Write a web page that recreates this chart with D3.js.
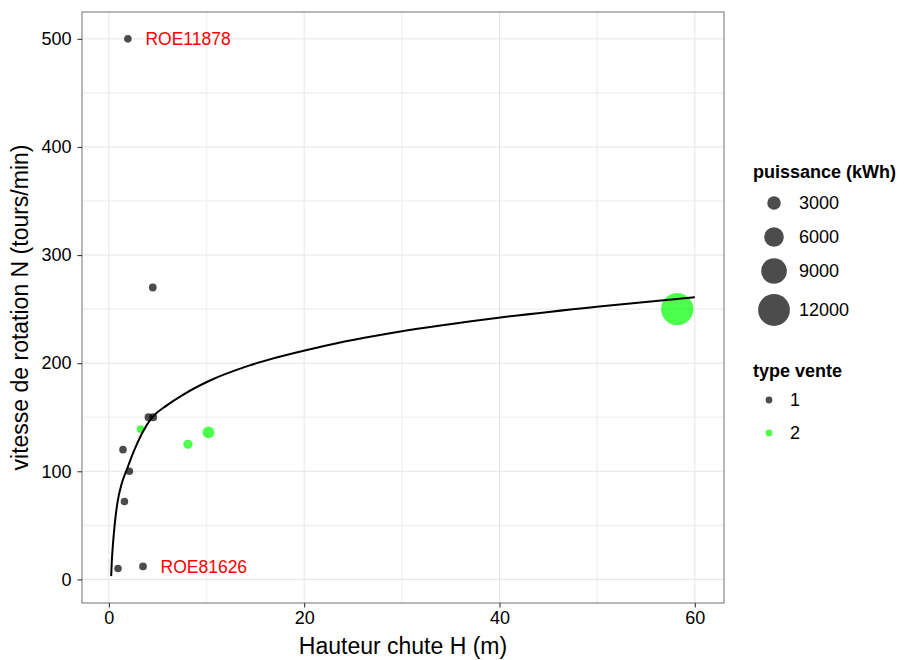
<!DOCTYPE html>
<html>
<head>
<meta charset="utf-8">
<script src="https://cdn.jsdelivr.net/npm/d3@7"></script>
<style>
  html, body { margin: 0; padding: 0; background: #fff; }
  svg { display: block; font-family: "Liberation Sans", Arial, Helvetica, sans-serif; }
</style>
</head>
<body>
<svg id="chart" width="906" height="660"></svg>
<script>
// ---- data ----
const hauteur   = [0.94, 3.5, 1.6, 2.1, 1.45, 4.06, 4.54, 1.95, 4.5, 3.25, 8.1, 10.2, 58.2];
const vitesse   = [10, 12, 72, 100, 120, 150, 150, 500, 270, 139, 125, 136, 250];
const typeVente = ["1","1","1","1","1","1","1","1","1","2","2","2","2"];
const puissance = [80, 150, 60, 120, 100, 200, 250, 90, 180, 250, 900, 2200, 12300];
const etiquettes = ["", "ROE81626", "", "", "", "", "", "ROE11878", "", "", "", "", ""];

// fitted curve
const courbeH = [0.24, 0.3, 0.4, 0.5, 0.65, 0.9, 1.3, 1.86, 2.53, 3.39, 4.45, 5.94, 7.63, 10.36, 14.44, 21.6, 29.7, 39.9, 50.2, 60];
const courbeN = [3, 16, 30, 41, 55, 72, 88, 102, 118, 135, 150, 161, 171, 184, 198, 215, 229, 242, 252.5, 261];

const xTicks = [0, 20, 40, 60];
const xMinor = [10, 30, 50];
const yTicks = [0, 100, 200, 300, 400, 500];
const yMinor = [50, 150, 250, 350, 450];

const legendPuissance = [3000, 6000, 9000, 12000];
const legendType = ["1", "2"];

// ---- layout ----
const svg = d3.select("#chart");
const P = {left: 82, right: 724, top: 12, bottom: 603};
const FS_TICK = 18, FS_TITLE = 23, FS_LEG = 18, FS_LAB = 17.5;

const allH = hauteur.concat(courbeH), allN = vitesse.concat(courbeN);
function expand(ext) { const d = (ext[1] - ext[0]) * 0.05; return [ext[0] - d, ext[1] + d]; }
const x = d3.scaleLinear().domain(expand(d3.extent(allH))).range([P.left, P.right]);
const y = d3.scaleLinear().domain(expand(d3.extent(allN))).range([P.bottom, P.top]);
const r = d3.scaleLinear().domain([0, 12000]).range([3.7, 15.9]);
const colour = d3.scaleOrdinal().domain(["1", "2"]).range(["#000000", "#00ff00"]);
const alpha = 0.7;

// panel
svg.append("rect").attr("x", P.left).attr("y", P.top)
  .attr("width", P.right - P.left).attr("height", P.bottom - P.top).attr("fill", "#fff");

const grid = svg.append("g");
grid.selectAll(".xmin").data(xMinor).join("line")
  .attr("x1", d => x(d)).attr("x2", d => x(d)).attr("y1", P.top).attr("y2", P.bottom)
  .attr("stroke", "#f2f2f2").attr("stroke-width", 1.6);
grid.selectAll(".ymin").data(yMinor).join("line")
  .attr("y1", d => y(d)).attr("y2", d => y(d)).attr("x1", P.left).attr("x2", P.right)
  .attr("stroke", "#f2f2f2").attr("stroke-width", 1.6);
grid.selectAll(".xmaj").data(xTicks).join("line")
  .attr("x1", d => x(d)).attr("x2", d => x(d)).attr("y1", P.top).attr("y2", P.bottom)
  .attr("stroke", "#e5e5e5").attr("stroke-width", 1);
grid.selectAll(".ymaj").data(yTicks).join("line")
  .attr("y1", d => y(d)).attr("y2", d => y(d)).attr("x1", P.left).attr("x2", P.right)
  .attr("stroke", "#e5e5e5").attr("stroke-width", 1);

// points
const pts = hauteur.map((h, i) => ({h, n: vitesse[i], t: typeVente[i], p: puissance[i], lab: etiquettes[i]}));
svg.append("g").selectAll("circle").data(pts).join("circle")
  .attr("cx", d => x(d.h)).attr("cy", d => y(d.n)).attr("r", d => r(d.p))
  .attr("fill", d => colour(d.t)).attr("fill-opacity", alpha);

// labels
svg.append("g").selectAll("text").data(pts.filter(d => d.lab)).join("text")
  .attr("x", d => x(d.h) + 17.5).attr("y", d => y(d.n)).attr("dy", "0.36em")
  .attr("fill", "#ff0000").attr("font-size", FS_LAB).text(d => d.lab);

// curve
const courbe = courbeH.map((h, i) => [h, courbeN[i]]);
svg.append("path").datum(courbe)
  .attr("d", d3.line().x(d => x(d[0])).y(d => y(d[1])).curve(d3.curveMonotoneX))
  .attr("fill", "none").attr("stroke", "#000").attr("stroke-width", 2);

// border
svg.append("rect").attr("x", P.left).attr("y", P.top)
  .attr("width", P.right - P.left).attr("height", P.bottom - P.top)
  .attr("fill", "none").attr("stroke", "#7f7f7f").attr("stroke-width", 1.1);

// axes
const xAxis = d3.axisBottom(x).tickValues(xTicks).tickSize(4.5).tickPadding(4).tickFormat(d3.format("d"));
const gx = svg.append("g").attr("transform", `translate(0,${P.bottom})`).call(xAxis);
const yAxis = d3.axisLeft(y).tickValues(yTicks).tickSize(4.5).tickPadding(6).tickFormat(d3.format("d"));
const gy = svg.append("g").attr("transform", `translate(${P.left},0)`).call(yAxis);
[gx, gy].forEach(g => {
  g.select(".domain").remove();
  g.selectAll(".tick line").attr("stroke", "#333").attr("stroke-width", 1.1);
  g.selectAll(".tick text").attr("fill", "#000").attr("font-size", FS_TICK)
   .attr("font-family", "Liberation Sans, Arial, sans-serif");
});

// axis titles
svg.append("text").attr("x", (P.left + P.right) / 2).attr("y", 654)
  .attr("text-anchor", "middle").attr("font-size", FS_TITLE).attr("fill", "#000")
  .text("Hauteur chute H (m)");
svg.append("text").attr("transform", `translate(28,${(P.top + P.bottom) / 2}) rotate(-90)`)
  .attr("text-anchor", "middle").attr("font-size", FS_TITLE).attr("fill", "#000")
  .text("vitesse de rotation N (tours/min)");

// legend: puissance
const lg1 = svg.append("g");
lg1.append("text").attr("x", 753).attr("y", 178).attr("font-size", FS_LEG).attr("font-weight", "bold")
  .text("puissance (kWh)");
const sizeY = [203, 237, 271, 310];
legendPuissance.forEach((v, i) => {
  lg1.append("circle").attr("cx", 774).attr("cy", sizeY[i]).attr("r", r(v))
    .attr("fill", "#000").attr("fill-opacity", alpha);
  lg1.append("text").attr("x", 799).attr("y", sizeY[i]).attr("dy", "0.36em")
    .attr("font-size", FS_LEG).text(d3.format("d")(v));
});

// legend: type vente
const lg2 = svg.append("g");
lg2.append("text").attr("x", 753).attr("y", 377).attr("font-size", FS_LEG).attr("font-weight", "bold")
  .text("type vente");
const typeY = [400, 433];
legendType.forEach((t, i) => {
  lg2.append("circle").attr("cx", 769).attr("cy", typeY[i]).attr("r", 3.4)
    .attr("fill", colour(t)).attr("fill-opacity", alpha);
  lg2.append("text").attr("x", 790).attr("y", typeY[i]).attr("dy", "0.36em")
    .attr("font-size", FS_LEG).text(t);
});
</script>
</body>
</html>
